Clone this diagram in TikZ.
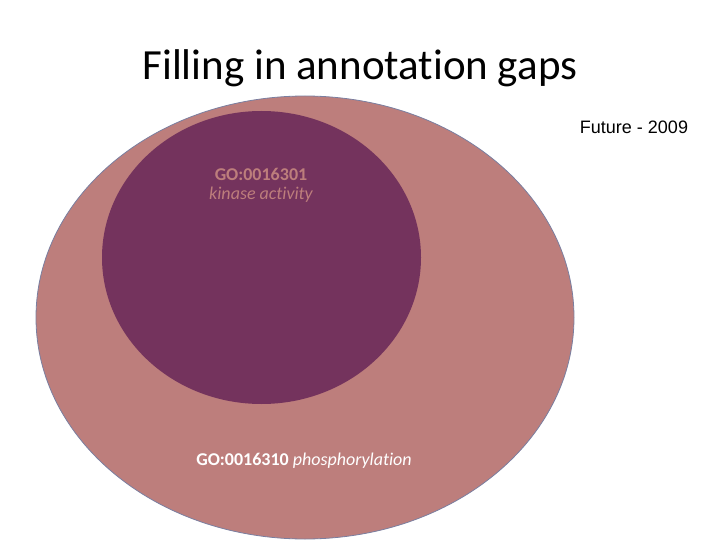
\documentclass[tikz,border=0pt]{standalone}
\usepackage{fontspec}
\setmainfont[Ligatures={NoCommon}]{Carlito}
\newfontfamily\arialf{Liberation Sans}
\definecolor{outerc}{HTML}{BD7E7C}
\definecolor{innerc}{HTML}{74335D}
\definecolor{edgec}{HTML}{7A7FA0}
\begin{document}
\begin{tikzpicture}[x=1pt,y=-1pt,
  lbl/.style={inner sep=0pt,font=\fontsize{18}{20}\selectfont}]
\useasboundingbox (0,0) rectangle (720,540);
\node[inner sep=0pt,font=\fontsize{43}{48}\selectfont] (title) at (360,68) {Filling in annotation gaps};
\node[inner sep=0pt,font=\arialf\fontsize{18}{20}\selectfont] (future) at (634,127) {Future - 2009};
\path[fill=outerc,draw=edgec,line width=0.8pt] (305,317.5) ellipse [x radius=269, y radius=221.5];
\path[fill=innerc] (261.5,257.5) ellipse [x radius=159.5, y radius=146.5];
\node[lbl,text=outerc,font=\bfseries\fontsize{18}{20}\selectfont] (go1) at (261,174) {GO:0016301};
\node[lbl,text=outerc,font=\itshape\fontsize{18}{20}\selectfont] (kin) at (261,195) {kinase activity};
\node[lbl,text=white] (go2) at (304,461) {\textbf{GO:0016310} \textit{phosphorylation}};
\end{tikzpicture}
\end{document}
